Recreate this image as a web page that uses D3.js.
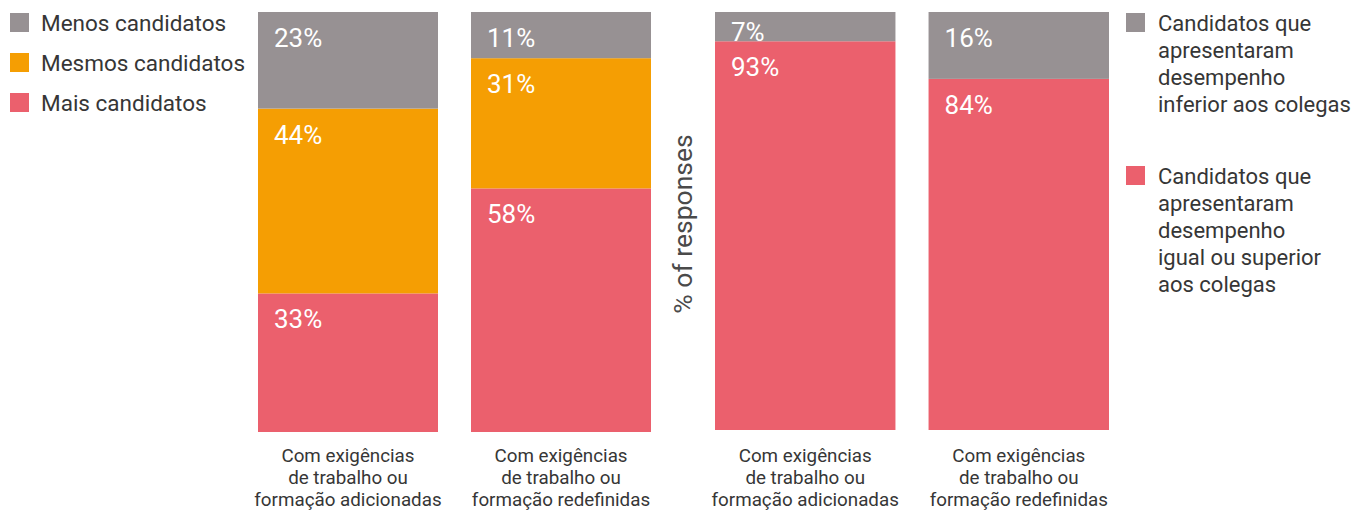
<!DOCTYPE html>
<html>
<head>
<meta charset="utf-8">
<script src="https://cdn.jsdelivr.net/npm/d3@7"></script>
<style>
  html, body { margin: 0; padding: 0; background: #fff; }
  svg { display: block; font-family: Roboto, "Noto Sans", sans-serif; }
</style>
</head>
<body>
<svg id="chart" width="1351" height="511"></svg>
<script>
// Category labels (multi-line) shared by both panels
const categories = [
  ["Com exigências", "de trabalho ou", "formação adicionadas"],
  ["Com exigências", "de trabalho ou", "formação redefinidas"]
];
const categoryKeys = ["adicionadas", "redefinidas"];

// Left panel: candidate volume (bottom to top)
const volumeSeries = ["Mais candidatos", "Mesmos candidatos", "Menos candidatos"];
const volumeMais   = [33, 58];
const volumeMesmos = [44, 31];
const volumeMenos  = [23, 11];

// Right panel: candidate performance (bottom to top)
const perfSeries = ["Candidatos que apresentaram desempenho igual ou superior aos colegas",
                    "Candidatos que apresentaram desempenho inferior aos colegas"];
const perfIgual    = [93, 84];
const perfInferior = [7, 16];

const colors = { gray: "#979193", orange: "#f59e03", red: "#eb606d" };
const textColor = "#363636";

const svg = d3.select("#chart");

function drawPanel(rows, keys, colorOf, xRange, yRange) {
  const x = d3.scaleBand().domain(categoryKeys).range(xRange).paddingInner(0.155).paddingOuter(0);
  const y = d3.scaleLinear().domain([0, 100]).range(yRange);
  const stacked = d3.stack().keys(keys)(rows);
  const g = svg.append("g");

  stacked.forEach(layer => {
    const lg = g.append("g");
    lg.selectAll("rect").data(layer).join("rect")
      .attr("x", d => x(d.data.cat))
      .attr("y", d => y(d[1]))
      .attr("width", x.bandwidth())
      .attr("height", d => y(d[0]) - y(d[1]))
      .attr("fill", colorOf(layer.key));
    lg.selectAll("text").data(layer).join("text")
      .attr("x", d => x(d.data.cat) + 16)
      .attr("y", d => {
        const top = y(d[1]);
        const h = y(d[0]) - top;
        return top + Math.min(35, h);
      })
      .attr("fill", "#fff")
      .attr("font-size", 26)
      .text(d => (d[1] - d[0]) + "%");
  });

  // Category labels under each bar
  const lab = g.selectAll("text.cat").data(categoryKeys).join("text")
    .attr("class", "cat")
    .attr("text-anchor", "middle")
    .attr("fill", textColor)
    .attr("font-size", 18.8);
  lab.each(function(k, i) {
    d3.select(this).selectAll("tspan").data(categories[i]).join("tspan")
      .attr("x", x(k) + x.bandwidth() / 2)
      .attr("y", (d, j) => 462 + j * 22)
      .text(d => d);
  });
}

// Left stacked panel
const volumeRows = categoryKeys.map((c, i) => ({
  cat: c, "Mais candidatos": volumeMais[i], "Mesmos candidatos": volumeMesmos[i], "Menos candidatos": volumeMenos[i]
}));
const volumeColor = { "Mais candidatos": colors.red, "Mesmos candidatos": colors.orange, "Menos candidatos": colors.gray };
drawPanel(volumeRows, volumeSeries, k => volumeColor[k], [258, 651], [432, 12]);

// Right stacked panel
const perfRows = categoryKeys.map((c, i) => ({
  cat: c, [perfSeries[0]]: perfIgual[i], [perfSeries[1]]: perfInferior[i]
}));
const perfColor = { [perfSeries[0]]: colors.red, [perfSeries[1]]: colors.gray };
drawPanel(perfRows, perfSeries, k => perfColor[k], [715, 1109], [430, 12]);

// Y axis title between the panels
svg.append("text")
  .attr("transform", "translate(682,224) rotate(-90)")
  .attr("text-anchor", "middle")
  .attr("dominant-baseline", "central")
  .attr("fill", "#4a4a4a")
  .attr("font-size", 26.5)
  .text("% of responses");

// Left legend
const leftLegend = [
  { label: "Menos candidatos", color: colors.gray },
  { label: "Mesmos candidatos", color: colors.orange },
  { label: "Mais candidatos", color: colors.red }
];
const ll = svg.append("g").selectAll("g").data(leftLegend).join("g")
  .attr("transform", (d, i) => `translate(10,${13 + i * 40})`);
ll.append("rect").attr("width", 19).attr("height", 19).attr("fill", d => d.color);
ll.append("text").attr("x", 31).attr("y", 18).attr("fill", textColor)
  .attr("font-size", 22.5).text(d => d.label);

// Right legend (wrapped labels)
const rightLegend = [
  { lines: ["Candidatos que", "apresentaram", "desempenho", "inferior aos colegas"], color: colors.gray, top: 13 },
  { lines: ["Candidatos que", "apresentaram", "desempenho", "igual ou superior", "aos colegas"], color: colors.red, top: 166 }
];
const rl = svg.append("g").selectAll("g").data(rightLegend).join("g")
  .attr("transform", d => `translate(1126,${d.top})`);
rl.append("rect").attr("width", 19).attr("height", 19).attr("fill", d => d.color);
rl.append("text").attr("fill", textColor).attr("font-size", 22)
  .selectAll("tspan").data(d => d.lines).join("tspan")
  .attr("x", 32).attr("y", (d, j) => 18 + j * 27).text(d => d);
</script>
</body>
</html>
